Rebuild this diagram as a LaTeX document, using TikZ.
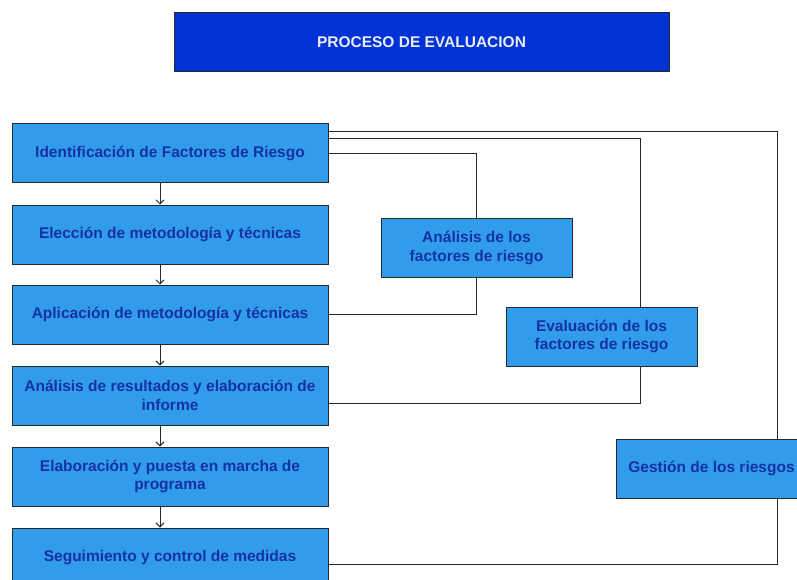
\documentclass[tikz,border=0pt]{standalone}
\usepackage{fontspec}
\setmainfont{Liberation Sans}
\usetikzlibrary{arrows.meta}
\definecolor{boxfill}{RGB}{50,156,236}
\definecolor{boxtext}{RGB}{22,50,160}
\definecolor{titlefill}{RGB}{0,51,214}
\definecolor{titletext}{RGB}{236,236,242}
\definecolor{linecol}{RGB}{40,40,40}
\tikzset{
  stepbox/.style={draw=linecol, line width=1pt, fill=boxfill, text=boxtext,
    font=\fontsize{15.5}{18.5}\selectfont\bfseries, align=center, inner sep=0pt,
    minimum height=59pt},
  leftbox/.style={stepbox, minimum width=316pt},
  sidebox/.style={stepbox, minimum width=191pt},
  titlebox/.style={draw=linecol, line width=1pt, fill=titlefill, text=titletext,
    font=\fontsize{15.5}{18.5}\selectfont\bfseries, inner sep=0pt,
    minimum width=495pt, minimum height=59pt},
  conn/.style={draw=linecol, line width=0.9pt},
  arr/.style={conn, -{Straight Barb[length=4pt,width=8pt]}}
}
\begin{document}
\begin{tikzpicture}[x=1pt,y=-1pt]
\clip (0,0) rectangle (797,580);
\fill[white] (0,0) rectangle (797,580);

\node[titlebox] (t) at (421.5,42.5) {PROCESO DE EVALUACION};

\node[leftbox] (b1) at (170,153.5) {Identificación de Factores de Riesgo};
\node[leftbox] (b2) at (170,234.5) {Elección de metodología y técnicas};
\node[leftbox] (b3) at (170,314.5) {Aplicación de metodología y técnicas};
\node[leftbox] (b4) at (170,395.5) {Análisis de resultados y elaboración de\\informe};
\node[leftbox] (b5) at (170,476.5) {Elaboración y puesta en marcha de\\programa};
\node[leftbox] (b6) at (170,557.5) {Seguimiento y control de medidas};

\node[sidebox] (an) at (476.5,248) {Análisis de los\\factores de riesgo};
\node[sidebox] (ev) at (601.5,336.5) {Evaluación de los\\factores de riesgo};
\node[sidebox] (g) at (711.5,468.5) {Gestión de los riesgos};

\draw[arr] ([xshift=-10pt]b1.south) -- ([xshift=-10pt]b2.north);
\draw[arr] ([xshift=-10pt]b2.south) -- ([xshift=-10pt]b3.north);
\draw[arr] ([xshift=-10pt]b3.south) -- ([xshift=-10pt]b4.north);
\draw[arr] ([xshift=-10pt]b4.south) -- ([xshift=-10pt]b5.north);
\draw[arr] ([xshift=-10pt]b5.south) -- ([xshift=-10pt]b6.north);

\draw[conn] (b1.east) -| (an.north);
\draw[conn] (an.south) |- (b3.east);
\draw[conn] ([yshift=15.5pt]b1.east) -| ([xshift=38.5pt]ev.north);
\draw[conn] ([xshift=38.5pt]ev.south) |- ([yshift=-7.5pt]b4.east);
\draw[conn] ([yshift=22.5pt]b1.east) -| ([xshift=65.5pt]g.north);
\draw[conn] ([xshift=65.5pt]g.south) |- ([yshift=-6.5pt]b6.east);
\end{tikzpicture}
\end{document}
